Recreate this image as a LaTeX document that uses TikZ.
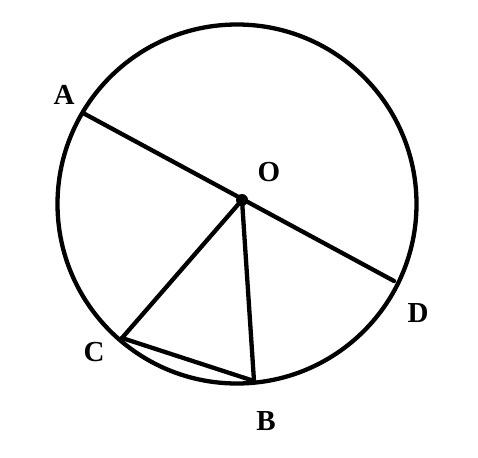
\documentclass[tikz,border=0pt]{standalone}
\usepackage{fontspec}
\setmainfont{Liberation Serif}
\begin{document}
\begin{tikzpicture}[x=1pt,y=-1pt,
  geo/.style={line width=4.3pt,line cap=round,line join=round},
  lbl/.style={font=\fontsize{29}{34}\selectfont\bfseries,inner sep=0pt}]
\useasboundingbox (0,0) rectangle (478,457);
\coordinate (M) at (237,204);
\draw[geo] (M) circle[radius=179.5];
\coordinate (O) at (242,200);
\coordinate (A) at (83,113);
\coordinate (D) at (394,281);
\coordinate (C) at (122,338);
\coordinate (B) at (254,381);
\draw[geo] (A) -- (D);
\draw[geo] (C) -- (O) -- (B);
\draw[geo] (C) -- (B);
\fill (O) circle[radius=6];
\node[lbl] (la) at (64,95) {A};
\node[lbl] (lo) at (269,172) {O};
\node[lbl] (ld) at (418,313) {D};
\node[lbl] (lc) at (94,352) {C};
\node[lbl] (lb) at (266,421) {B};
\end{tikzpicture}
\end{document}
